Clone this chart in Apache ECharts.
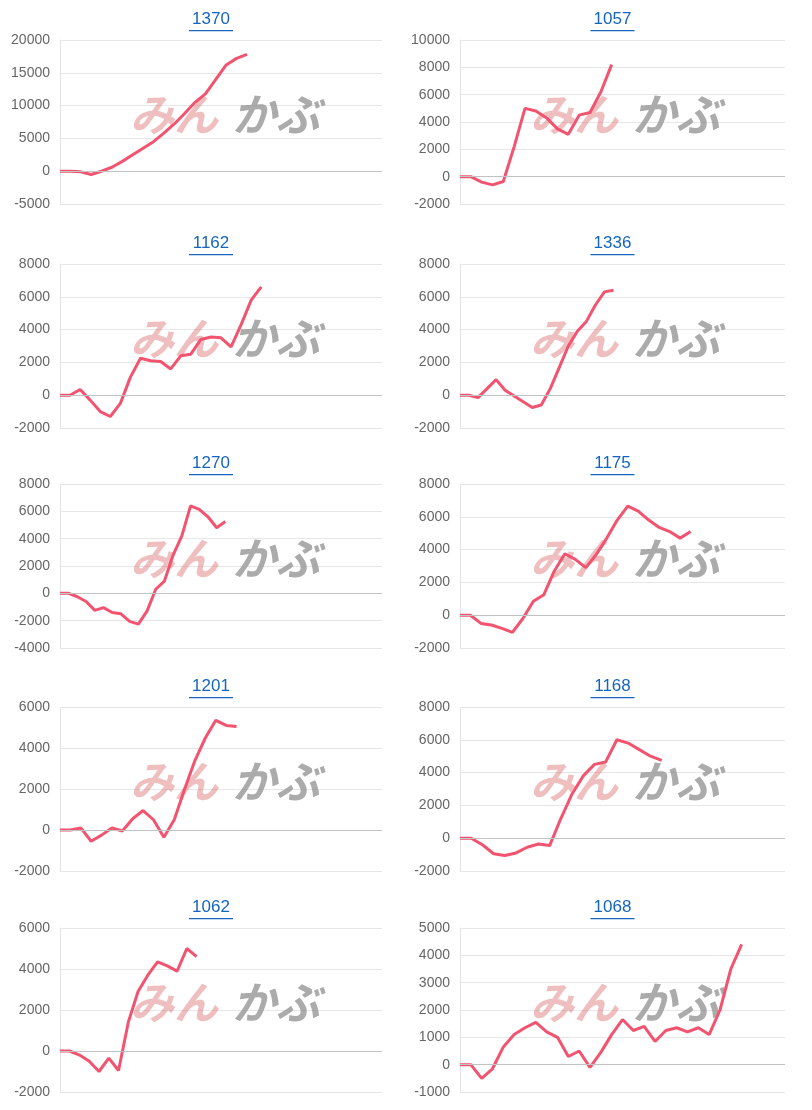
<!DOCTYPE html>
<html>
<head>
<meta charset="utf-8">
<script src="https://cdn.jsdelivr.net/npm/echarts@6/dist/echarts.min.js"></script>
<style>
  html, body { margin: 0; padding: 0; background: #fff; }
  #wrap { position: relative; width: 812px; height: 1110px; }
  .panel { position: absolute; width: 406px; height: 222px; }
</style>
</head>
<body>
<div id="wrap"></div>
<script>
// panel titles, left to right, top to bottom
var titles = ['1370', '1057', '1162', '1336', '1270', '1175', '1201', '1168', '1062', '1068'];

// number of x slots on each panel's axis
var slots = [32, 31, 33, 37, 38, 32, 32, 30, 34, 31];

// y axis ranges
var yMin = [-5000, -2000, -2000, -2000, -4000, -2000, -2000, -2000, -2000, -1000];
var yMax = [20000, 10000, 8000, 8000, 8000, 8000, 6000, 8000, 6000, 5000];
var yStep = [5000, 2000, 2000, 2000, 2000, 2000, 2000, 2000, 2000, 1000];

// series values
var s1370 = [0, 0, -100, -500, 0, 600, 1500, 2500, 3500, 4500, 5800, 7200, 8800, 10500, 11800, 14000, 16200, 17200, 17800];
var s1057 = [0, 0, -400, -600, -350, 2200, 5000, 4800, 4300, 3500, 3100, 4500, 4700, 6200, 8200];
var s1162 = [0, 0, 350, -300, -1000, -1300, -500, 1100, 2250, 2100, 2050, 1600, 2400, 2500, 3400, 3550, 3500, 2950, 4300, 5800, 6600];
var s1336 = [0, 0, -150, 400, 950, 300, -50, -400, -750, -600, 400, 1700, 3000, 3900, 4500, 5500, 6300, 6400];
var s1270 = [0, 0, -250, -600, -1250, -1050, -1400, -1500, -2050, -2250, -1300, 300, 900, 2800, 4200, 6400, 6150, 5600, 4800, 5250];
var s1175 = [0, 0, -500, -600, -800, -1050, -200, 850, 1250, 2700, 3750, 3400, 2900, 3700, 4700, 5800, 6650, 6350, 5800, 5350, 5100, 4700, 5100];
var s1201 = [0, 0, 100, -550, -250, 100, -50, 550, 950, 500, -350, 500, 2000, 3400, 4500, 5350, 5100, 5050];
var s1168 = [0, 0, -400, -950, -1050, -900, -550, -350, -450, 1200, 2700, 3800, 4500, 4650, 6000, 5800, 5400, 5000, 4750];
var s1062 = [0, 0, -200, -500, -1000, -350, -950, 1400, 2900, 3700, 4350, 4150, 3900, 5000, 4600];
var s1068 = [0, 0, -500, -150, 650, 1100, 1350, 1550, 1200, 1000, 300, 500, -100, 450, 1100, 1650, 1250, 1400, 850, 1250, 1350, 1200, 1350, 1100, 2000, 3500, 4400];

var seriesData = [s1370, s1057, s1162, s1336, s1270, s1175, s1201, s1168, s1062, s1068];

var wrap = document.getElementById('wrap');
var rowTop = [0, 224, 444, 667, 888];

for (var i = 0; i < titles.length; i++) {
    var col = i % 2, row = Math.floor(i / 2);
    var div = document.createElement('div');
    div.className = 'panel';
    div.style.left = (col * 406) + 'px';
    div.style.top = rowTop[row] + 'px';
    wrap.appendChild(div);

    var gl = col ? 54 : 60, gw = col ? 325 : 322, gt = 40, gh = 164;
    var cx = gl + gw / 2 - 10;
    var cats = [];
    for (var k = 0; k < slots[i]; k++) cats.push(String(k + 1));

    var chart = echarts.init(div);
    chart.setOption({
        animation: false,
        grid: { left: gl, top: gt, width: gw, height: gh },
        xAxis: {
            type: 'category', data: cats, boundaryGap: false,
            axisLabel: { show: false }, axisTick: { show: false },
            axisLine: { show: false, onZero: false }, splitLine: { show: false }
        },
        yAxis: {
            type: 'value', min: yMin[i], max: yMax[i], interval: yStep[i],
            axisLine: { show: true, onZero: false, lineStyle: { color: '#e3e3e3' } },
            axisTick: { show: false },
            axisLabel: { color: '#666', fontSize: 14, fontFamily: 'Arial', margin: 10,
                         formatter: function (v) { return String(v); } },
            splitLine: { lineStyle: { color: '#e6e6e6' } }
        },
        series: [{
            type: 'line', data: seriesData[i], showSymbol: false,
            lineStyle: { color: '#f25470', width: 3 },
            markLine: {
                silent: true, symbol: 'none', label: { show: false },
                lineStyle: { color: '#c2c2c2', type: 'solid', width: 1 },
                data: [{ yAxis: 0 }]
            },
            z: 3
        }],
        graphic: [
            { type: 'text', x: cx, y: 11,
              style: { text: titles[i], fill: '#1565c0', fontSize: 17, fontFamily: 'Arial', textAlign: 'center' } },
            { type: 'rect', shape: { x: cx - 22, y: 30, width: 44, height: 1.3 }, style: { fill: '#1565c0' } },
            { type: 'text', x: gl + 70, y: gt + 52, z: 1,
              style: { text: 'みん', fill: 'rgba(220,110,110,0.45)', fontSize: 44, fontWeight: 'bold', fontStyle: 'italic', fontFamily: 'Noto Sans CJK JP' } },
            { type: 'text', x: gl + 172, y: gt + 52, z: 1,
              style: { text: 'かぶ', fill: 'rgba(150,150,150,0.8)', fontSize: 44, fontWeight: 'bold', fontStyle: 'italic', fontFamily: 'Noto Sans CJK JP' } }
        ]
    });
}
</script>
</body>
</html>
